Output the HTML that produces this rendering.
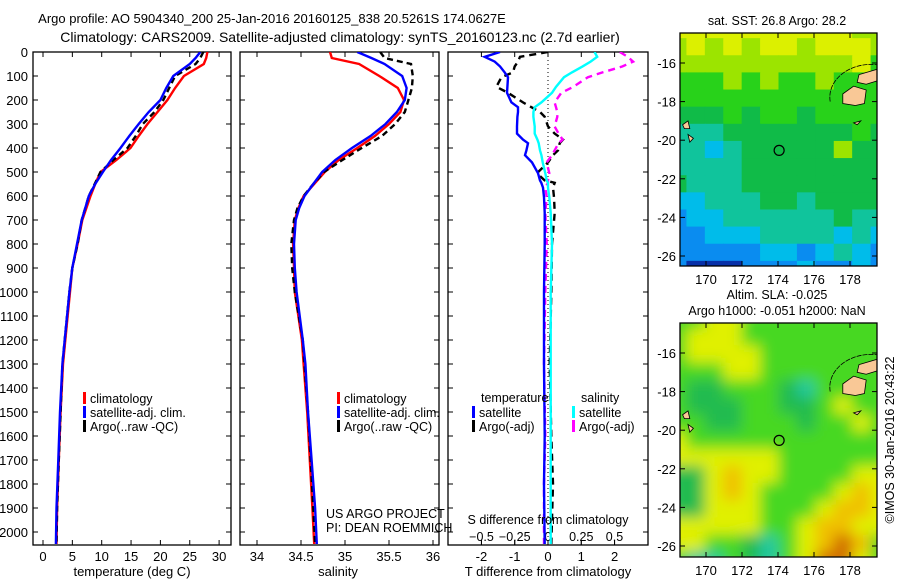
<!DOCTYPE html>
<html><head><meta charset="utf-8"><style>
html,body{margin:0;padding:0;background:#fff}
svg{display:block;font-family:"Liberation Sans",sans-serif}
text{fill:#000}
</style></head><body>
<svg id="fig" width="900" height="580" viewBox="0 0 900 580">
<defs>
<clipPath id="c1"><rect x="33" y="52" width="198" height="493"/></clipPath>
<clipPath id="c2"><rect x="240" y="52" width="199" height="493"/></clipPath>
<clipPath id="c3"><rect x="448" y="52" width="200" height="493"/></clipPath>
<clipPath id="cm1"><rect x="680" y="33" width="197" height="233"/></clipPath>
<clipPath id="cm2"><rect x="680" y="323" width="197" height="234"/></clipPath>
<filter id="blur" x="-5%" y="-5%" width="110%" height="110%"><feGaussianBlur stdDeviation="7"/></filter>
</defs>
<text x="272" y="23" font-size="13" text-anchor="middle">Argo profile: AO 5904340_200 25-Jan-2016 20160125_838 20.5261S 174.0627E</text>
<text x="340" y="42" font-size="14" text-anchor="middle">Climatology: CARS2009. Satellite-adjusted climatology: synTS_20160123.nc (2.7d earlier)</text>
<g id="g1"></g>
<g id="g2"></g>
<g id="g3"></g>
<g id="m1"></g>
<g id="m2"></g>
</svg>
<script>
// ---- data ----
const depths = [0,25,50,100,150,200,250,300,350,400,450,500,550,600,650,700,800,900,1000,1200,1300,1500,1700,1900,2050];
const tempClim = [28,27.8,27.4,24,22.5,21.2,19.5,17.8,16.3,14.9,12.5,9.8,8.9,8.1,7.4,6.7,5.9,5.0,4.6,3.8,3.4,3.0,2.7,2.4,2.3];
const tempSat  = [26.8,26,25,22.2,21,20,18,16.3,14.7,13.2,11.6,10.2,8.9,7.8,7.2,6.6,5.8,5.0,4.5,3.7,3.3,2.9,2.6,2.3,2.2];
const tempArgo = [27.3,26.8,26,22.5,21.5,20.5,19,17,15.8,14.4,12,9.8,8.8,7.8,7.2,6.6,5.9,5.0,4.5,3.7,3.3,3.0,2.7,2.4,2.3];
const salClim = [34.83,34.85,35.16,35.39,35.6,35.67,35.63,35.5,35.34,35.14,34.93,34.77,34.65,34.53,34.47,34.43,34.41,34.42,34.43,34.51,34.53,34.57,34.6,34.63,34.65];
const salSat  = [35.14,35.3,35.45,35.65,35.7,35.68,35.59,35.46,35.29,35.08,34.89,34.74,34.64,34.54,34.48,34.44,34.42,34.43,34.45,34.52,34.55,34.58,34.62,34.66,34.68];
const salArgo = [35.4,35.45,35.75,35.77,35.76,35.72,35.68,35.57,35.42,35.19,34.97,34.76,34.64,34.53,34.46,34.42,34.39,34.4,34.43,34.52,34.54,34.58,34.61,34.64,34.66];
const diffDepths = [0,20,40,60,85,105,145,170,210,230,250,270,310,340,365,380,410,430,460,505,535,545,565,605,670,800,1000,1300,1600,1800,2050];
const dTSat  = [-1.44,-1.9,-1.6,-1.44,-1.3,-1.2,-1.22,-1.23,-1.1,-0.9,-0.9,-0.92,-0.93,-0.93,-0.75,-0.6,-0.65,-0.69,-0.48,-0.3,-0.24,-0.2,-0.15,-0.12,-0.1,-0.1,-0.12,-0.12,-0.1,-0.12,-0.1];
const dTArgo = [0,-0.84,-0.9,-1.0,-1.05,-1.4,-1.55,-1.2,-0.75,-0.5,-0.24,-0.1,0,0.2,0.45,0.35,0.3,0.15,0,-0.33,-0.1,0.2,0.15,0.18,0.2,0.12,0.1,0.05,0.1,0.15,0.1];
const dSSat  = [0.35,0.37,0.32,0.26,0.18,0.12,0.06,0.03,-0.05,-0.1,-0.11,-0.11,-0.1,-0.1,-0.08,-0.07,-0.06,-0.05,-0.04,-0.02,-0.01,0,0,0.01,0.02,0.03,0.02,0.02,0.02,0.02,0.02];
const dSArgo = [0.54,0.6,0.64,0.56,0.41,0.3,0.19,0.1,0.05,0.06,0.07,0.07,0.05,0.08,0.11,0.08,0.05,0.03,-0.01,0.01,0,0,-0.02,-0.01,-0.02,-0.01,-0.02,-0.03,-0.02,-0.03,-0.03];
const depthTicks = [0,100,200,300,400,500,600,700,800,900,1000,1100,1200,1300,1400,1500,1600,1700,1800,1900,2000];
const tempTicks = [0,5,10,15,20,25,30];
const salTicks = [34,34.5,35,35.5,36];
const dTTicks = [-2,-1,0,1,2];
const dSTicks = [-0.5,-0.25,0,0.25,0.5];
const dSTickLabels = ["\u22120.5","\u22120.25","0","0.25","0.5"];
const lonTicks = [170,172,174,176,178];
const latTicks = [-16,-18,-20,-22,-24,-26];
const argoLon = 174.0627, argoLat = -20.5261;
const sstGrid = [
"YYYYYYYYYYLL","LYLYLYYLYYYL","LLLLLLLLLLYG","GGGLGLGGLGGG","GGGGGGGGGGGG",
"MMMGMGGMGGGG","TTTMMMMMMMGM","TTCTMMMMMLMM","TTTTMMMMMMMM","MTTTMMMMMMMM",
"CCTTTMMTMMMM","BCCTTTTTTMTT","BBCCCTTTTCTC","BBBBBCCBCTCB","BDDDBBBCBBCB"];
const slaGrid = [
"GGYYGGGGGGGG","GYYYGGGGGGGG","GYYYYGGGGGGG","GGGYYGGGGGGG","GMMGGGMTGGGG",
"GMMMGGMMGYGG","GGMMGGGMGGYG","YGGGGGGGGGGG","YYYYYYGGGGGG","MMYOYYGGGGYY",
"MMYOYGGGGYOY","MMYYYGGGYOOY","YYYYYGGYOOYY","YYGGMTGYOROG","GTTGMTGYRRYG"];
// ---- helpers ----
const NS="http://www.w3.org/2000/svg";
function mk(tag,attrs,parent){const e=document.createElementNS(NS,tag);for(const k in attrs)e.setAttribute(k,attrs[k]);parent.appendChild(e);return e;}
function txt(parent,x,y,s,size,anchor){const t=mk('text',{x:x,y:y,'font-size':size||12,'text-anchor':anchor||'middle'},parent);t.textContent=s;return t;}
const yD = d => 52 + d*0.24;
const xT = v => 43 + v*5.87;
const xS = v => 257 + (v-34)*88;
const xDT = v => 548 + v*33.3;
const xDS = v => 548 + v*133;
function line(parent,xs,ds,fx,color,dash,clip,name){
  const pts = xs.map((v,i)=>fx(v).toFixed(1)+','+yD(ds[i]).toFixed(1)).join(' ');
  const p = mk('polyline',{points:pts,fill:'none',stroke:color,'stroke-width':2.4,'clip-path':'url(#'+clip+')'},parent);
  if(dash) p.setAttribute('stroke-dasharray',dash);
  
  
  return p;
}
function frame(g,x0,x1,showDepth){
  const r = mk('rect',{x:x0,y:52,width:x1-x0,height:493,fill:'none',stroke:'#000','stroke-width':1.3},g);
  
  
  depthTicks.forEach(d=>{
    mk('line',{x1:x0,x2:x0+5,y1:yD(d),y2:yD(d),stroke:'#000'},g);
    mk('line',{x1:x1,x2:x1-5,y1:yD(d),y2:yD(d),stroke:'#000'},g);
    if(showDepth){const t=txt(g,28,yD(d)+5,String(d),13,'end');
      
      }
  });
}
function xticks(g,vals,labels,fx,ly){
  vals.forEach((v,i)=>{
    mk('line',{x1:fx(v),x2:fx(v),y1:545,y2:540,stroke:'#000'},g);
    mk('line',{x1:fx(v),x2:fx(v),y1:52,y2:57,stroke:'#000'},g);
    const t=txt(g,fx(v),ly,labels[i],13);
    
    
  });
}
function legend(g,x,y,items){
  items.forEach((it,i)=>{
    mk('rect',{x:x,y:y+i*14-6,width:3,height:12,fill:it[0]},g);
    const t=txt(g,x+7,y+i*14+5,it[1],12.5,'start');
    
    
  });
}
// ---- panel 1 ----
const g1=document.getElementById('g1');
frame(g1,33,231,true);
xticks(g1,tempTicks,tempTicks.map(String),xT,561);
line(g1,tempClim,depths,xT,'#f00',null,'c1','temperature-climatology-line');
line(g1,tempArgo,depths,xT,'#000','6,4','c1','temperature-argo-line');
line(g1,tempSat,depths,xT,'#00f',null,'c1','temperature-satellite-line');
legend(g1,83,398,[['#f00','climatology'],['#00f','satellite-adj. clim.'],['#000','Argo(..raw -QC)']]);
let t=txt(g1,132,576,'temperature (deg C)',13);


// ---- panel 2 ----
const g2=document.getElementById('g2');
frame(g2,240,439,false);
xticks(g2,salTicks,salTicks.map(String),xS,561);
line(g2,salClim,depths,xS,'#f00',null,'c2','salinity-climatology-line');
line(g2,salArgo,depths,xS,'#000','6,4','c2','salinity-argo-line');
line(g2,salSat,depths,xS,'#00f',null,'c2','salinity-satellite-line');
legend(g2,337,398,[['#f00','climatology'],['#00f','satellite-adj. clim.'],['#000','Argo(..raw -QC)']]);
t=txt(g2,338,576,'salinity',13);


t=txt(g2,326,518,'US ARGO PROJECT',12.5,'start');


t=txt(g2,326,532,'PI: DEAN ROEMMICH',12.5,'start');


// ---- panel 3 ----
const g3=document.getElementById('g3');
frame(g3,448,648,false);
xticks(g3,dTTicks,dTTicks.map(String),xDT,561);
mk('line',{x1:548,x2:548,y1:52,y2:545,stroke:'#000','stroke-dasharray':'1,3'},g3);
dSTicks.forEach((v,i)=>{
  mk('line',{x1:xDS(v),x2:xDS(v),y1:545,y2:540,stroke:'#000'},g3);
  const tt=txt(g3,xDS(v),541,dSTickLabels[i],12.5);
  
  
});
line(g3,dTArgo,diffDepths,xDT,'#000','7,5','c3','t-diff-argo-line');
line(g3,dSArgo,diffDepths,xDS,'#f0f','7,5','c3','s-diff-argo-line');
line(g3,dTSat,diffDepths,xDT,'#00f',null,'c3','t-diff-satellite-line');
line(g3,dSSat,diffDepths,xDS,'#0ff',null,'c3','s-diff-satellite-line');
t=txt(g3,481,402,'temperature',12.5,'start');


t=txt(g3,581,402,'salinity',12.5,'start');


legend(g3,472,412,[['#00f','satellite'],['#000','Argo(-adj)']]);
legend(g3,572,412,[['#0ff','satellite'],['#f0f','Argo(-adj)']]);
t=txt(g3,548,524,'S difference from climatology',12.5);


t=txt(g3,548,576,'T difference from climatology',13);


// ---- maps ----
const pal={Y:'#dcf000',L:'#9ce400',G:'#28d21a',M:'#10bb48',T:'#10c49c',C:'#00bcea',B:'#0a8cf0',D:'#0830a8',O:'#f0b800',R:'#d87008'};
const pal2={Y:'#e0f000',G:'#46d820',M:'#22bb50',T:'#20c8a0',O:'#f0c000',R:'#d06a00'};
function map(gid,top,grid,colors,clip,blur,titles){
  const g=document.getElementById(gid);
  const x0=680,w=197,h=grid===sstGrid?233:234;
  const xL=lon=>706+(lon-170)*18, yL=lat=>top+30+(-16-lat)*19.3;
  const cg=mk('g',{'clip-path':'url(#'+clip+')'},g);
  const inner=mk('g',blur?{filter:'url(#blur)'}:{},cg);
  const rows=grid.length, cols=grid[0].length;
  const cw=(w+24)/cols, ch=(h+24)/rows;
  for(let r=0;r<rows;r++)for(let c=0;c<cols;c++){
    const cell=mk('rect',{x:x0-12+c*cw,y:top-12+r*ch,width:cw+0.6,height:ch+0.6,fill:colors[grid[r][c]]},inner);
    
    
  }
  const land=[[178.5,-16.6,179.6,-16.3,179.6,-16.9,178.9,-17.1,178.4,-17],[177.6,-17.6,178.2,-17.2,178.9,-17.4,178.8,-18.1,178.3,-18.2,177.6,-18.1],[168.7,-19.2,169,-19,169.1,-19.4,168.8,-19.4],[169,-19.7,169.3,-19.9,169.1,-20.1],[178.2,-19.1,178.6,-19,178.4,-19.2]];
  land.forEach(p=>{let pts=[];for(let i=0;i<p.length;i+=2)pts.push(xL(p[i])+','+yL(p[i+1]));
    const l=mk('polygon',{points:pts.join(' '),fill:'#f9c896',stroke:'#000','stroke-width':0.8},cg);
    
    });
  mk('path',{d:`M${xL(176.9)},${yL(-18)} A ${2.3*18} ${1.7*19.3} 0 0 1 ${xL(179.6)},${yL(-16.1)}`,fill:'none',stroke:'#000','stroke-width':0.8,'stroke-dasharray':'5,1'},cg);
  const cir=mk('circle',{cx:xL(argoLon),cy:yL(argoLat),r:5,fill:'none',stroke:'#000','stroke-width':1.2},g);
  
  
  const fr=mk('rect',{x:x0,y:top,width:w,height:h,fill:'none',stroke:'#000','stroke-width':1.3},g);
  
  
  lonTicks.forEach(l=>{mk('line',{x1:xL(l),x2:xL(l),y1:top+h,y2:top+h-5,stroke:'#000'},g);mk('line',{x1:xL(l),x2:xL(l),y1:top,y2:top+5,stroke:'#000'},g);
    const tl=txt(g,xL(l),top+h+18,String(l),13);
    
    });
  latTicks.forEach(l=>{mk('line',{x1:x0,x2:x0+5,y1:yL(l),y2:yL(l),stroke:'#000'},g);mk('line',{x1:x0+w,x2:x0+w-5,y1:yL(l),y2:yL(l),stroke:'#000'},g);
    const tl=txt(g,676,yL(l)+5,String(l),13,'end');
    
    });
  titles.forEach((s,i)=>{const tl=txt(g,777,top-(titles.length-i)*16+8,s,12.5);
    
    });
}
map('m1',33,sstGrid,pal,'cm1',false,['sat. SST: 26.8 Argo: 28.2']);
map('m2',323,slaGrid,pal2,'cm2',true,['Altim. SLA: -0.025','Argo h1000: -0.051 h2000: NaN']);
const fig=document.getElementById('fig');
t=txt(fig,0,0,'\u00A9IMOS 30-Jan-2016 20:43:22',12.5);
t.setAttribute('transform','translate(894,440) rotate(-90)');


</script>
</body></html>
